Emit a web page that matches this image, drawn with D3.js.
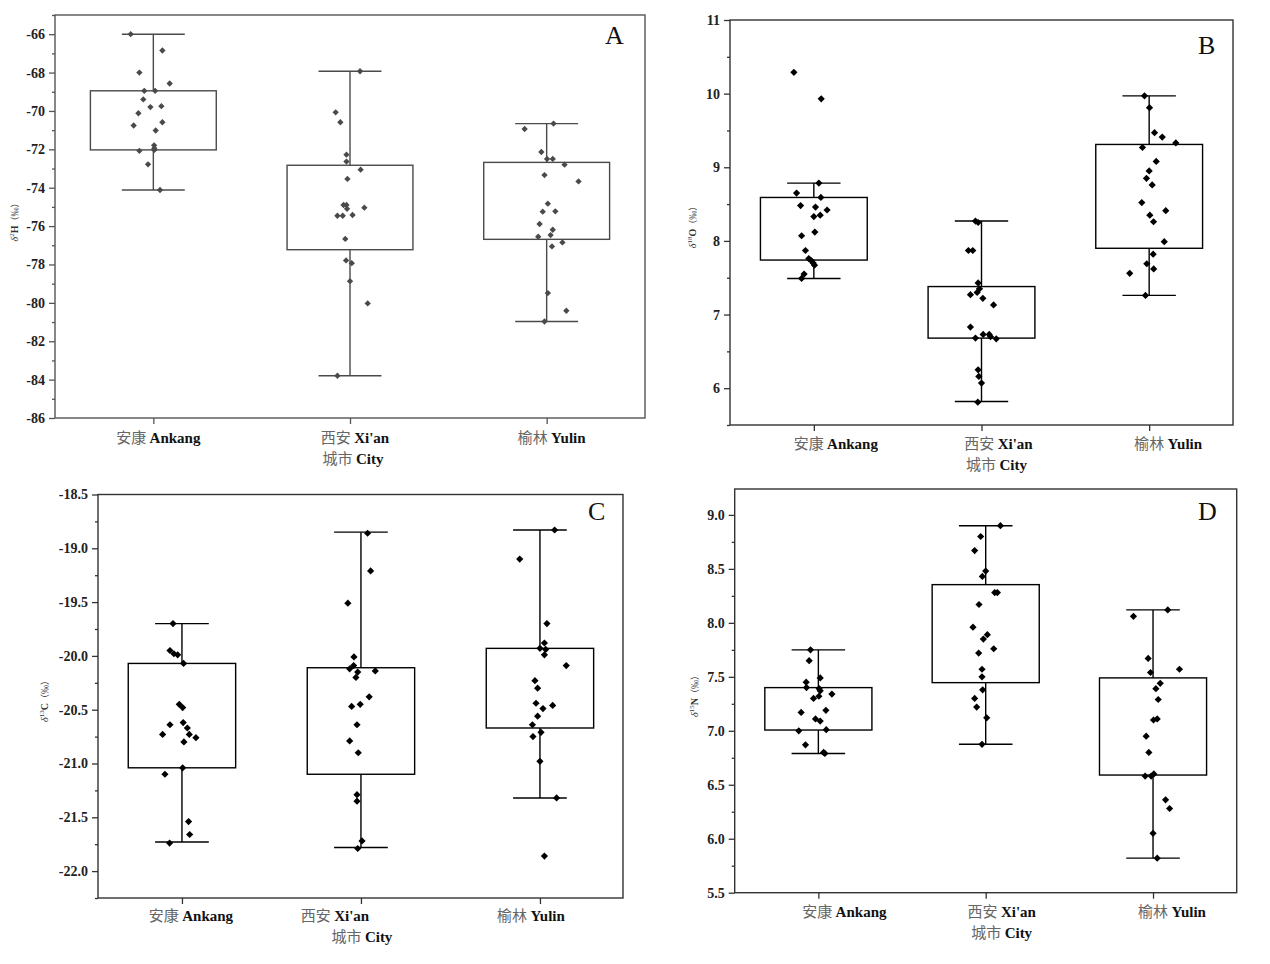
<!DOCTYPE html>
<html><head><meta charset="utf-8">
<script src="https://cdn.jsdelivr.net/npm/d3@7"></script>
<style>body{margin:0;background:#fff} svg{display:block}</style>
</head><body>
<svg id="c" width="1270" height="964"></svg>
<script>
// ---------- data ----------
const cityZh = ["安康", "西安", "榆林"];
const cityEn = ["Ankang", "Xi'an", "Yulin"];
const xTitleZh = "城市";
const xTitleEn = "City";

// Panel A : δ2H (‰)   box = [lower whisker, Q1, Q3, upper whisker]
const ticksA = [-86, -84, -82, -80, -78, -76, -74, -72, -70, -68, -66];
const boxA = [[-74.12, -72.03, -68.95, -66.0], [-83.8, -77.23, -72.83, -67.93], [-80.97, -76.69, -72.68, -70.66]];
const ptsA_Ankang = [-66.0, -66.85, -68.0, -68.57, -68.95, -68.95, -69.4, -69.8, -69.75, -70.12, -70.76, -70.59, -71.02, -71.79, -71.95, -72.08, -72.03, -72.78, -74.12];
const jitA_Ankang = [-0.115, 0.046, -0.071, 0.083, -0.046, 0.009, -0.051, -0.015, 0.041, -0.076, -0.1, 0.046, 0.012, 0.004, 0.005, -0.071, 0.005, -0.027, 0.034];
const ptsA_Xian = [-67.93, -70.07, -70.59, -72.28, -72.64, -73.06, -73.54, -74.9, -74.9, -75.1, -75.04, -75.46, -75.46, -75.42, -76.67, -77.79, -77.93, -78.87, -80.03, -83.8];
const jitA_Xian = [0.051, -0.073, -0.049, -0.018, -0.018, 0.054, -0.013, -0.033, -0.018, -0.015, 0.073, -0.064, -0.037, 0.013, -0.024, -0.02, 0.009, 0, 0.09, -0.064];
const ptsA_Yulin = [-70.66, -70.94, -72.14, -72.5, -72.5, -72.8, -73.34, -73.67, -74.83, -75.25, -75.23, -75.89, -76.19, -76.47, -76.55, -76.85, -77.06, -79.49, -80.41, -80.97];
const jitA_Yulin = [0.035, -0.112, -0.027, 0.002, 0.031, 0.091, -0.011, 0.162, 0.006, -0.02, 0.044, -0.036, 0.031, 0.02, -0.043, 0.08, 0.027, 0.006, 0.1, -0.011];

// Panel B : δ18O (‰)
const ticksB = [6, 7, 8, 9, 10, 11];
const boxB = [[7.49, 7.74, 8.59, 8.785], [5.82, 6.68, 7.38, 8.27], [7.26, 7.9, 9.31, 9.97]];
const ptsB_Ankang = [10.29, 9.93, 8.785, 8.65, 8.59, 8.48, 8.46, 8.42, 8.33, 8.35, 8.12, 8.07, 7.87, 7.76, 7.73, 7.7, 7.67, 7.55, 7.49];
const jitB_Ankang = [-0.119, 0.044, 0.03, -0.103, 0.042, -0.079, 0.01, 0.079, 0, 0.038, 0.006, -0.073, -0.05, -0.03, -0.014, -0.004, 0.004, -0.058, -0.073];
const ptsB_Xian = [8.27, 8.25, 7.87, 7.87, 7.43, 7.35, 7.3, 7.27, 7.22, 7.13, 6.83, 6.68, 6.73, 6.73, 6.7, 6.67, 6.25, 6.16, 6.07, 5.81];
const jitB_Xian = [-0.036, -0.02, -0.078, -0.052, -0.02, -0.012, -0.026, -0.066, 0.008, 0.072, -0.066, -0.036, 0.01, 0.046, 0.054, 0.088, -0.02, -0.016, 0, -0.022];
const ptsB_Yulin = [9.97, 9.81, 9.47, 9.41, 9.33, 9.27, 9.08, 8.95, 8.85, 8.76, 8.52, 8.41, 8.35, 8.26, 7.99, 7.82, 7.69, 7.62, 7.56, 7.26];
const jitB_Yulin = [-0.028, 0.002, 0.032, 0.078, 0.159, -0.04, 0.042, 0, -0.016, 0.018, -0.044, 0.099, 0.004, 0.026, 0.09, 0.024, -0.014, 0.027, -0.116, -0.022];

// Panel C : δ13C (‰)
const ticksC = [-22.0, -21.5, -21.0, -20.5, -20.0, -19.5, -19.0, -18.5];
const boxC = [[-21.73, -21.04, -20.07, -19.7], [-21.78, -21.1, -20.11, -18.85], [-21.32, -20.67, -19.93, -18.83]];
const ptsC_Ankang = [-19.7, -19.95, -19.98, -19.99, -20.07, -20.45, -20.48, -20.64, -20.62, -20.67, -20.73, -20.73, -20.76, -20.8, -21.04, -21.1, -21.54, -21.66, -21.74];
const jitC_Ankang = [-0.05, -0.067, -0.045, -0.024, 0.009, -0.015, 0.004, -0.067, 0.007, 0.03, -0.108, 0.041, 0.078, 0.011, 0.004, -0.095, 0.037, 0.043, -0.069];
const ptsC_Xian = [-18.86, -19.21, -19.51, -20.01, -20.09, -20.12, -20.15, -20.14, -20.2, -20.38, -20.47, -20.45, -20.64, -20.79, -20.9, -21.29, -21.35, -21.72, -21.79];
const jitC_Xian = [0.037, 0.054, -0.073, -0.039, -0.041, -0.063, -0.018, 0.08, -0.028, 0.046, -0.052, -0.004, -0.022, -0.063, -0.015, -0.022, -0.022, 0.006, -0.018];
const ptsC_Yulin = [-18.83, -19.1, -19.7, -19.88, -19.93, -19.94, -19.99, -20.09, -20.23, -20.3, -20.44, -20.46, -20.49, -20.56, -20.64, -20.71, -20.75, -20.98, -21.32, -21.86];
const jitC_Yulin = [0.082, -0.113, 0.039, 0.025, 0, 0.032, 0.025, 0.147, -0.028, -0.013, -0.022, 0.071, 0.017, -0.013, -0.042, 0.006, -0.039, 0, 0.093, 0.025];

// Panel D : δ15N (‰)
const ticksD = [5.5, 6.0, 6.5, 7.0, 7.5, 8.0, 8.5, 9.0];
const boxD = [[6.79, 7.007, 7.4, 7.75], [6.875, 7.446, 8.354, 8.9], [5.82, 6.59, 7.49, 8.12]];
const ptsD_Ankang = [7.75, 7.65, 7.49, 7.45, 7.4, 7.39, 7.37, 7.34, 7.32, 7.3, 7.17, 7.19, 7.11, 7.09, 7.0, 7.01, 6.87, 6.8, 6.79];
const jitD_Ankang = [-0.047, -0.055, 0.011, -0.073, -0.071, 0.005, 0.011, 0.081, 0.003, -0.029, -0.103, 0.045, -0.017, 0.011, -0.117, 0.047, -0.077, 0.031, 0.039];
const ptsD_Xian = [8.9, 8.8, 8.67, 8.48, 8.43, 8.28, 8.28, 8.17, 7.96, 7.89, 7.85, 7.76, 7.72, 7.57, 7.5, 7.38, 7.3, 7.22, 7.12, 6.875];
const jitD_Xian = [0.088, -0.03, -0.066, 0, -0.02, 0.054, 0.07, -0.04, -0.076, 0.01, -0.014, 0.048, -0.042, -0.022, -0.022, -0.018, -0.066, -0.054, 0.006, -0.022];
const ptsD_Yulin = [8.12, 8.06, 7.67, 7.57, 7.54, 7.44, 7.39, 7.29, 7.1, 7.11, 6.95, 6.8, 6.58, 6.58, 6.6, 6.36, 6.28, 6.05, 5.82];
const jitD_Yulin = [0.088, -0.117, -0.029, 0.158, -0.015, 0.043, 0.017, 0.031, 0.003, 0.025, -0.041, -0.025, -0.047, -0.011, 0.005, 0.075, 0.099, 0, 0.025];

// ---------- layout ----------
const hyphen = f => v => f(v).replace("\u2212", "-");
const panels = [
  {letter: "A", sup: "2", el: "H", ticks: ticksA, minorStep: 1, fmt: hyphen(d3.format("d")), box: boxA,
   pts: [ptsA_Ankang, ptsA_Xian, ptsA_Yulin], jit: [jitA_Ankang, jitA_Xian, jitA_Yulin],
   l: 55, t: 15, r: 645, b: 418, yd: [-86, -65], xd: [0.5, 3.5], bw: 0.64, col: "#4a4a4a", frame: "#555", ms: 20,
   titleX: 18, titleY: 220, lblDx: [5, 5, 5, 3], lblDy: 25, letX: 605, letY: 44},
  {letter: "B", sup: "18", el: "O", ticks: ticksB, minorStep: 0.5, fmt: hyphen(d3.format("d")), box: boxB,
   pts: [ptsB_Ankang, ptsB_Xian, ptsB_Yulin], jit: [jitB_Ankang, jitB_Xian, jitB_Yulin],
   l: 730, t: 20, r: 1233, b: 425, yd: [5.5, 11], xd: [0.5, 3.5], bw: 0.637, col: "#000", frame: "#333", ms: 26,
   titleX: 696, titleY: 225, lblDx: [22, 17, 19, 15], lblDy: 24, letX: 1198, letY: 54},
  {letter: "C", sup: "13", el: "C", ticks: ticksC, minorStep: 0.25, fmt: hyphen(d3.format(".1f")), box: boxC,
   pts: [ptsC_Ankang, ptsC_Xian, ptsC_Yulin], jit: [jitC_Ankang, jitC_Xian, jitC_Yulin],
   l: 98, t: 494.5, r: 623, b: 898, yd: [-22.25, -18.5], xd: [0.531, 3.464], bw: 0.6, col: "#000", frame: "#333", ms: 26,
   titleX: 48, titleY: 699, lblDx: [9, -26, -9, 1], lblDy: 23, letX: 588, letY: 520},
  {letter: "D", sup: "15", el: "N", ticks: ticksD, minorStep: 0.25, fmt: hyphen(d3.format(".1f")), box: boxD,
   pts: [ptsD_Ankang, ptsD_Xian, ptsD_Yulin], jit: [jitD_Ankang, jitD_Xian, jitD_Yulin],
   l: 734.7, t: 489, r: 1236.7, b: 892.7, yd: [5.5, 9.24], xd: [0.5, 3.5], bw: 0.64, col: "#000", frame: "#333", ms: 26,
   titleX: 698, titleY: 694, lblDx: [26, 16, 19, 16], lblDy: 24, letX: 1198, letY: 520}
];

const svg = d3.select("#c");
const serif = "'Liberation Serif','Times New Roman',serif";
const cjk = "'Noto Sans CJK SC','Noto Sans CJK JP',sans-serif";

panels.forEach(p => {
  const g = svg.append("g");
  const x = d3.scaleLinear().domain(p.xd).range([p.l, p.r]);
  const y = d3.scaleLinear().domain(p.yd).range([p.b, p.t]);

  // frame
  g.append("rect").attr("x", p.l).attr("y", p.t).attr("width", p.r - p.l).attr("height", p.b - p.t)
    .attr("fill", "none").attr("stroke", p.frame).attr("stroke-width", 1.4);

  // minor ticks
  const minor = d3.range(p.yd[0], p.yd[1] + 1e-9, p.minorStep).map(v => +v.toFixed(4))
    .filter(v => !p.ticks.some(t => Math.abs(t - v) < 1e-6) && v >= p.yd[0] && v <= p.yd[1]);
  g.append("g").attr("transform", `translate(${p.l},0)`)
    .call(d3.axisLeft(y).tickValues(minor).tickSize(3).tickFormat(""))
    .call(a => a.select(".domain").remove())
    .selectAll("line").attr("stroke", p.frame).attr("stroke-width", 1.3);

  // major y axis
  const ya = g.append("g").attr("transform", `translate(${p.l},0)`)
    .call(d3.axisLeft(y).tickValues(p.ticks).tickSize(6).tickPadding(4).tickFormat(p.fmt));
  ya.select(".domain").remove();
  ya.selectAll("line").attr("stroke", p.frame).attr("stroke-width", 1.3);
  ya.selectAll("text").attr("font-family", serif).attr("font-weight", "bold").attr("font-size", 14).attr("fill", "#222");

  // x axis ticks
  const xa = g.append("g").attr("transform", `translate(0,${p.b})`)
    .call(d3.axisBottom(x).tickValues([1, 2, 3]).tickSize(6).tickFormat(""));
  xa.select(".domain").remove();
  xa.selectAll("line").attr("stroke", p.frame).attr("stroke-width", 1.3);

  // x labels
  cityZh.forEach((zh, i) => {
    const t = g.append("text").attr("x", x(i + 1) + p.lblDx[i]).attr("y", p.b + p.lblDy)
      .attr("text-anchor", "middle").attr("font-size", 15);
    t.append("tspan").attr("font-family", cjk).attr("fill", "#666").text(zh + " ");
    t.append("tspan").attr("font-family", serif).attr("font-weight", "bold").attr("fill", "#111").text(cityEn[i]);
  });
  const ct = g.append("text").attr("x", x(2) + p.lblDx[3]).attr("y", p.b + p.lblDy + 21)
    .attr("text-anchor", "middle").attr("font-size", 15);
  ct.append("tspan").attr("font-family", cjk).attr("fill", "#666").text(xTitleZh + " ");
  ct.append("tspan").attr("font-family", serif).attr("font-weight", "bold").attr("fill", "#111").text(xTitleEn);

  // y title
  const yt = g.append("text").attr("transform", `translate(${p.titleX},${p.titleY}) rotate(-90)`)
    .attr("text-anchor", "middle").attr("font-family", serif).attr("font-size", 10).attr("fill", "#333");
  yt.append("tspan").attr("font-style", "italic").text("δ");
  yt.append("tspan").attr("font-size", 7).attr("dy", -4).text(p.sup);
  yt.append("tspan").attr("dy", 4).attr("font-weight", "bold").text(p.el);
  yt.append("tspan").attr("font-family", cjk).attr("font-size", 9).text("（‰）");

  // boxes & whiskers
  p.box.forEach((bx, i) => {
    const c = i + 1;
    const [lo, q1, q3, hi] = bx;
    g.append("line").attr("x1", x(c)).attr("x2", x(c)).attr("y1", y(hi)).attr("y2", y(q3))
      .attr("stroke", p.col).attr("stroke-width", 1.4);
    g.append("line").attr("x1", x(c)).attr("x2", x(c)).attr("y1", y(q1)).attr("y2", y(lo))
      .attr("stroke", p.col).attr("stroke-width", 1.4);
    [hi, lo].forEach(v => g.append("line").attr("x1", x(c - p.bw / 4)).attr("x2", x(c + p.bw / 4))
      .attr("y1", y(v)).attr("y2", y(v)).attr("stroke", p.col).attr("stroke-width", 1.4));
    g.append("rect").attr("x", x(c - p.bw / 2)).attr("y", y(q3))
      .attr("width", x(c + p.bw / 2) - x(c - p.bw / 2)).attr("height", y(q1) - y(q3))
      .attr("fill", "none").attr("stroke", p.col).attr("stroke-width", 1.4);
  });

  // points
  const sym = d3.symbol().type(d3.symbolSquare).size(p.ms);
  p.pts.forEach((arr, i) => {
    g.append("g").selectAll("path").data(arr.map((v, k) => ({v, j: p.jit[i][k]})))
      .join("path").attr("d", sym)
      .attr("transform", d => `translate(${x(i + 1 + d.j)},${y(d.v)}) rotate(45)`)
      .attr("fill", p.col);
  });

  // panel letter
  g.append("text").attr("x", p.letX).attr("y", p.letY).attr("font-family", serif)
    .attr("font-size", 26).attr("fill", "#111").text(p.letter);
});
</script>
</body></html>
